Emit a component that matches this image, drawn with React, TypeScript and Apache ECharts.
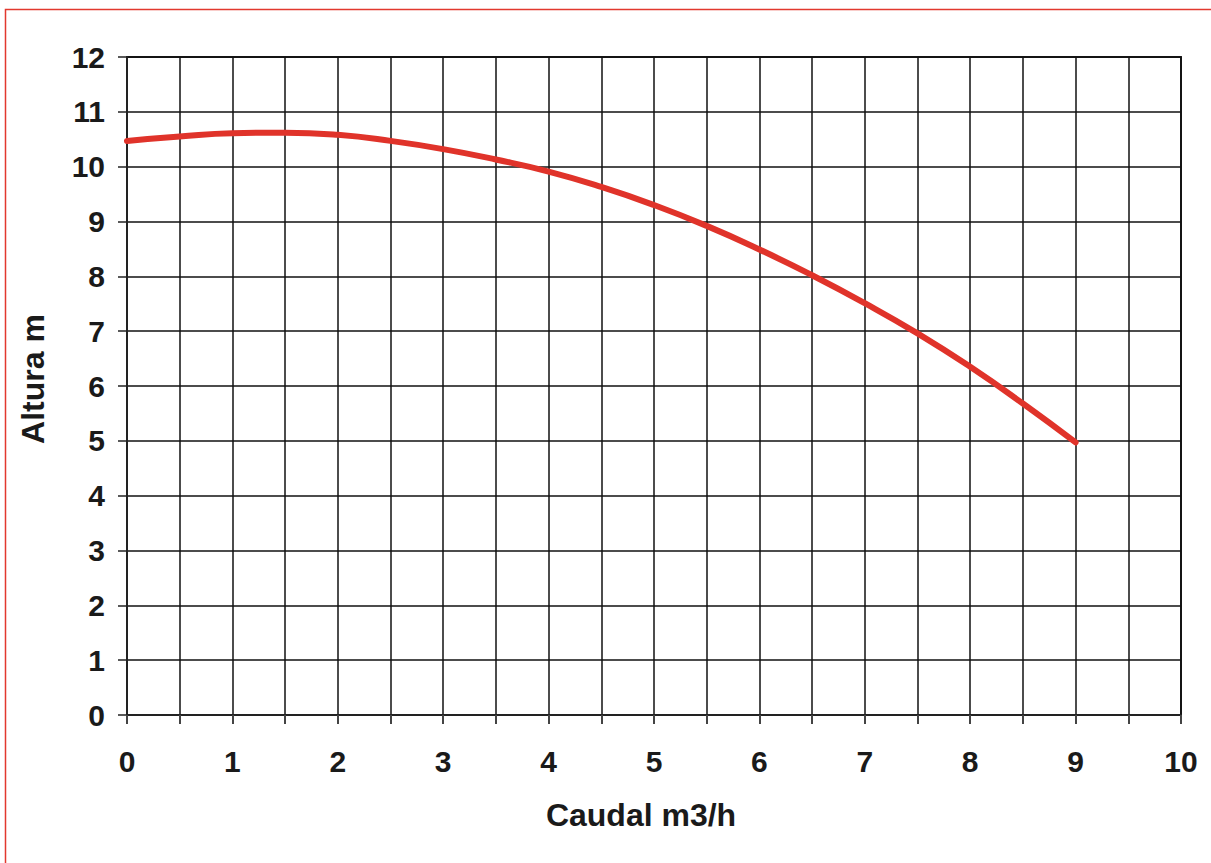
import React, { useEffect, useRef } from "react";
import * as echarts from "echarts";

const flowValues: number[] = [0, 0.5, 1, 1.5, 2, 2.5, 3, 3.5, 4, 4.5, 5, 5.5, 6, 6.5, 7, 7.5, 8, 8.5, 9];
const headValues: number[] = [10.47, 10.55, 10.61, 10.62, 10.58, 10.47, 10.32, 10.13, 9.91, 9.63, 9.3, 8.92, 8.49, 8.02, 7.51, 6.96, 6.35, 5.68, 4.97];
const xAxisTitle = "Caudal m3/h";
const yAxisTitle = "Altura m";

export default function App() {
  const ref = useRef<HTMLDivElement>(null);
  useEffect(() => {
    if (!ref.current) return;
    const chart = echarts.init(ref.current, null, { renderer: "svg" });
    const font = "'Liberation Sans', Arial, sans-serif";
    chart.setOption({
      animation: false,
      backgroundColor: "#ffffff",
      grid: { left: 127, top: 57, width: 1054, height: 658, show: true, borderColor: "#222", borderWidth: 2, backgroundColor: "transparent" },
      graphic: [
        {
          type: "rect",
          shape: { x: 5.5, y: 9.5, width: 1400, height: 1000 },
          style: { fill: "none", stroke: "#e2382e", lineWidth: 1.5 },
          silent: true,
        },
      ],
      xAxis: {
        type: "value",
        min: 0,
        max: 10,
        interval: 0.5,
        name: xAxisTitle,
        nameLocation: "middle",
        nameGap: 84,
        nameTextStyle: { fontFamily: font, fontWeight: "bold", fontSize: 32, color: "#1a1a1a", padding: [0, 26, 0, 0] },
        axisLine: { show: true, lineStyle: { color: "#222", width: 2 } },
        axisTick: { show: true, length: 9, lineStyle: { color: "#444", width: 2 } },
        axisLabel: {
          margin: 31,
          fontFamily: font,
          fontWeight: "bold",
          fontSize: 30,
          color: "#1a1a1a",
          formatter: (v: number) => (Number.isInteger(v) ? String(v) : ""),
          showMinLabel: true,
          showMaxLabel: true,
        },
        splitLine: { show: true, lineStyle: { color: "#111", width: 1.5 } },
      },
      yAxis: {
        type: "value",
        min: 0,
        max: 12,
        interval: 1,
        name: yAxisTitle,
        nameLocation: "middle",
        nameGap: 78,
        nameRotate: 90,
        nameTextStyle: { fontFamily: font, fontWeight: "bold", fontSize: 32, color: "#1a1a1a", padding: [0, 0, 0, 14] },
        axisLine: { show: true, lineStyle: { color: "#222", width: 2 } },
        axisTick: { show: true, length: 9, lineStyle: { color: "#222", width: 1.5 } },
        axisLabel: { margin: 22, fontFamily: font, fontWeight: "bold", fontSize: 30, color: "#1a1a1a" },
        splitLine: { show: true, lineStyle: { color: "#111", width: 1.5 } },
      },
      series: [
        {
          type: "line",
          data: flowValues.map((x, i) => [x, headValues[i]]),
          smooth: true,
          showSymbol: false,
          lineStyle: { color: "#e0332a", width: 6, cap: "round" },
        },
      ],
    });
    return () => chart.dispose();
  }, []);
  return <div ref={ref} style={{ position: "absolute", left: 0, top: 0, width: 1211, height: 863 }} />;
}
